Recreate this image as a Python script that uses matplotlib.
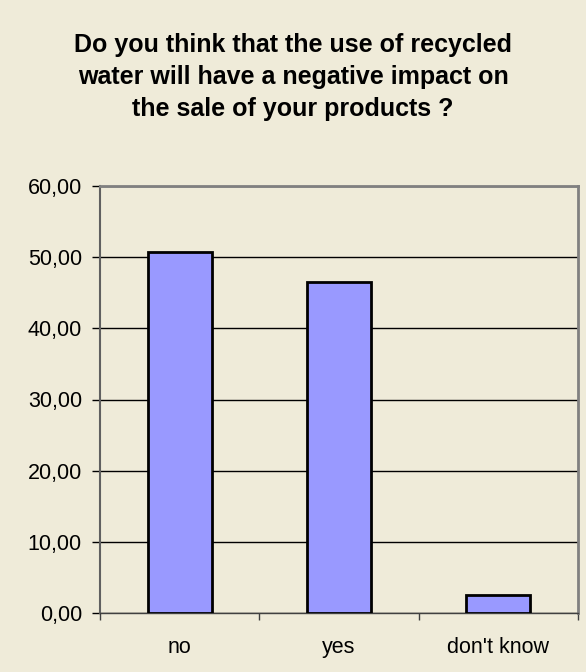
import matplotlib.pyplot as plt
import numpy as np

plt.rcParams['font.family'] = ['Liberation Sans', 'DejaVu Sans']

answers = ['no', 'yes', "don't know"]
percent = [50.7, 46.5, 2.5]
y_ticks = [0, 10, 20, 30, 40, 50, 60]

bg = '#efebd9'

fig = plt.figure(figsize=(5.86, 6.72), dpi=100, facecolor=bg)
ax = fig.add_axes([100 / 586, 1 - 613 / 672, 478 / 586, 427 / 672], facecolor=bg)

x = np.arange(len(answers))
ax.bar(x, percent, width=0.4, color='#9999ff', edgecolor='black', linewidth=2, zorder=3)

ax.set_xlim(-0.5, len(answers) - 0.5)
ax.set_ylim(0, 60)

ax.set_yticks(y_ticks)
ax.set_yticklabels(['{:.2f}'.format(v).replace('.', ',') for v in y_ticks], fontsize=15.5)
ax.yaxis.grid(True, color='black', linewidth=1, zorder=0)
ax.set_axisbelow(True)

# category ticks sit between the bars, labels centred under them
ax.set_xticks(np.arange(len(answers) + 1) - 0.5)
ax.set_xticklabels([])
ax.set_xticks(x, minor=True)
ax.set_xticklabels(answers, minor=True, fontsize=15.5)
ax.tick_params(axis='x', which='minor', length=0, pad=17)
ax.tick_params(axis='x', which='major', length=5, width=1, color='#404040', direction='out')
ax.tick_params(axis='y', length=6, width=1, color='black', direction='out', pad=7)

for side in ['top', 'right']:
    ax.spines[side].set_color('#808080')
    ax.spines[side].set_linewidth(2)
ax.spines['left'].set_color('#606060')
ax.spines['left'].set_linewidth(1.5)
ax.spines['bottom'].set_color('#404040')
ax.spines['bottom'].set_linewidth(1)

fig.text(0.5, 1 - 77 / 672,
         'Do you think that the use of recycled\nwater will have a negative impact on\nthe sale of your products ?',
         ha='center', va='center', fontsize=18, fontweight='bold', linespacing=1.4)

fig.savefig('out.png', dpi=100, facecolor=bg)
